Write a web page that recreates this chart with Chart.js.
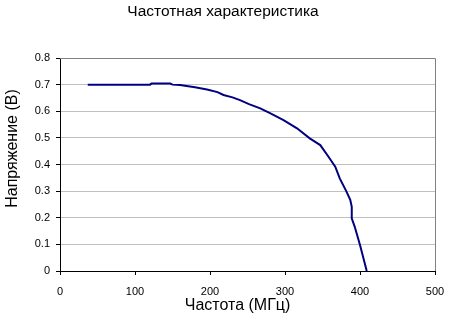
<!DOCTYPE html>
<html>
<head>
<meta charset="utf-8">
<script src="https://cdn.jsdelivr.net/npm/chart.js@4/dist/chart.umd.min.js"></script>
<style>
    html, body { margin: 0; padding: 0; background: #fff; }
    #wrap { width: 451px; height: 323px; }
</style>
</head>
<body>
<div id="wrap"><canvas id="freqChart" width="451" height="323"></canvas></div>
<script>
// Chart data
const chartTitle = 'Частотная характеристика';
const xAxisTitle = 'Частота (МГц)';
const yAxisTitle = 'Напряжение (В)';

const freqMHz = [37, 60, 80, 100, 120, 122, 147, 150, 160, 180, 196, 210, 218, 230, 240, 252, 267, 280, 298, 316,
    333, 347, 358, 367, 373, 382, 387, 389, 389, 393, 400, 409];
const voltage = [0.70, 0.70, 0.70, 0.70, 0.70, 0.704, 0.704, 0.70, 0.699, 0.69, 0.682, 0.672, 0.661, 0.652, 0.642, 0.627, 0.611, 0.593, 0.567, 0.536,
    0.498, 0.473, 0.429, 0.392, 0.348, 0.298, 0.267, 0.241, 0.198, 0.166, 0.098, 0];

const xTicks = [0, 100, 200, 300, 400, 500];
const yTicks = [0, 0.1, 0.2, 0.3, 0.4, 0.5, 0.6, 0.7, 0.8];

const points = freqMHz.map((f, i) => ({ x: f, y: voltage[i] }));

const FONT = 'Arial, "Liberation Sans", sans-serif';

// Gray top/right border of the plot area
const plotFrame = {
    id: 'plotFrame',
    beforeDatasetsDraw(chart) {
        const { ctx, chartArea: a } = chart;
        ctx.save();
        ctx.strokeStyle = '#808080';
        ctx.lineWidth = 1;
        ctx.beginPath();
        ctx.moveTo(a.left, a.top + 0.5);
        ctx.lineTo(a.right + 0.5, a.top + 0.5);
        ctx.lineTo(a.right + 0.5, a.bottom);
        ctx.stroke();
        ctx.restore();
    }
};

// Chart and axis titles (placed like the Excel original, slightly off-centre)
const chartTexts = {
    id: 'chartTexts',
    afterDraw(chart) {
        const { ctx, chartArea: a } = chart;
        ctx.save();
        ctx.fillStyle = '#000';
        ctx.textAlign = 'center';
        ctx.textBaseline = 'middle';
        ctx.font = '15.5px ' + FONT;
        ctx.fillText(chartTitle, 223, 12);
        ctx.font = '16px ' + FONT;
        ctx.fillText(xAxisTitle, (a.left + a.right) / 2 - 10, 306);
        ctx.translate(13, (a.top + a.bottom) / 2 - 16);
        ctx.rotate(-Math.PI / 2);
        ctx.fillText(yAxisTitle, 0, 0);
        ctx.restore();
    }
};

const ctx = document.getElementById('freqChart').getContext('2d');
new Chart(ctx, {
    type: 'scatter',
    data: {
        datasets: [{
            data: points,
            showLine: true,
            borderColor: '#000080',
            borderWidth: 2,
            pointRadius: 0,
            tension: 0
        }]
    },
    options: {
        responsive: false,
        animation: false,
        layout: { padding: { left: 0, right: 16, top: 58, bottom: 0 } },
        plugins: {
            legend: { display: false },
            tooltip: { enabled: false },
            title: { display: false }
        },
        scales: {
            x: {
                type: 'linear',
                min: 0,
                max: 500,
                afterFit: scale => {
                    scale.height = 52;
                    scale.paddingLeft = 0;
                    scale.paddingRight = 0;
                },
                afterBuildTicks: scale => { scale.ticks = xTicks.map(v => ({ value: v })); },
                ticks: {
                    color: '#000',
                    font: { family: FONT, size: 11 },
                    padding: 10,
                    maxRotation: 0
                },
                grid: { drawOnChartArea: false, tickLength: 4, tickColor: '#000' },
                border: { color: '#000', width: 1 }
            },
            y: {
                type: 'linear',
                min: 0,
                max: 0.8,
                afterFit: scale => { scale.width = 60; },
                afterBuildTicks: scale => { scale.ticks = yTicks.map(v => ({ value: v })); },
                ticks: {
                    color: '#000',
                    font: { family: FONT, size: 11 },
                    padding: 6,
                    callback: v => String(Math.round(v * 10) / 10)
                },
                grid: {
                    color: c => (c.tick && c.tick.value >= 0.8 ? '#808080' : '#c0c0c0'),
                    tickLength: 4,
                    tickColor: '#000'
                },
                border: { color: '#000', width: 1 }
            }
        }
    },
    plugins: [plotFrame, chartTexts]
});
</script>
</body>
</html>
